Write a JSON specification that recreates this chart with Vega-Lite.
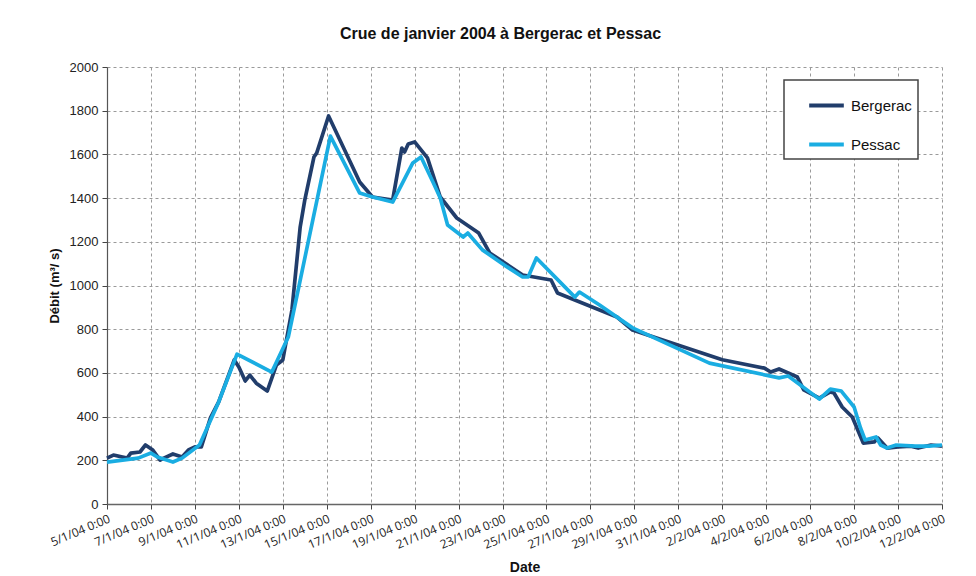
{
  "$schema": "https://vega.github.io/schema/vega-lite/v6.json",
  "width": 835,
  "height": 437,
  "autosize": "none",
  "padding": {"left": 107, "top": 67, "right": 34, "bottom": 72},
  "background": "white",
  "title": {
    "text": "Crue de janvier 2004 à Bergerac et Pessac",
    "font": "Liberation Sans",
    "fontSize": 16,
    "fontWeight": "bold",
    "color": "#111111",
    "anchor": "middle",
    "dx": -24,
    "offset": 19
  },
  "data": {
    "values": [
      {"date": "2004-01-05T00:00", "station": "Bergerac", "debit": 210},
      {"date": "2004-01-05T07:00", "station": "Bergerac", "debit": 224},
      {"date": "2004-01-05T22:00", "station": "Bergerac", "debit": 210},
      {"date": "2004-01-06T02:00", "station": "Bergerac", "debit": 233},
      {"date": "2004-01-06T12:00", "station": "Bergerac", "debit": 238},
      {"date": "2004-01-06T18:00", "station": "Bergerac", "debit": 270},
      {"date": "2004-01-07T02:00", "station": "Bergerac", "debit": 247},
      {"date": "2004-01-07T10:00", "station": "Bergerac", "debit": 201},
      {"date": "2004-01-07T14:00", "station": "Bergerac", "debit": 210},
      {"date": "2004-01-08T00:00", "station": "Bergerac", "debit": 229},
      {"date": "2004-01-08T10:00", "station": "Bergerac", "debit": 215},
      {"date": "2004-01-08T17:00", "station": "Bergerac", "debit": 247},
      {"date": "2004-01-09T00:00", "station": "Bergerac", "debit": 261},
      {"date": "2004-01-09T07:00", "station": "Bergerac", "debit": 261},
      {"date": "2004-01-09T17:00", "station": "Bergerac", "debit": 394},
      {"date": "2004-01-10T02:00", "station": "Bergerac", "debit": 467},
      {"date": "2004-01-10T19:00", "station": "Bergerac", "debit": 659},
      {"date": "2004-01-11T00:00", "station": "Bergerac", "debit": 627},
      {"date": "2004-01-11T07:00", "station": "Bergerac", "debit": 563},
      {"date": "2004-01-11T12:00", "station": "Bergerac", "debit": 590},
      {"date": "2004-01-11T19:00", "station": "Bergerac", "debit": 553},
      {"date": "2004-01-12T07:00", "station": "Bergerac", "debit": 517},
      {"date": "2004-01-12T17:00", "station": "Bergerac", "debit": 636},
      {"date": "2004-01-13T00:00", "station": "Bergerac", "debit": 659},
      {"date": "2004-01-13T10:00", "station": "Bergerac", "debit": 888},
      {"date": "2004-01-13T19:00", "station": "Bergerac", "debit": 1268},
      {"date": "2004-01-14T00:00", "station": "Bergerac", "debit": 1391},
      {"date": "2004-01-14T10:00", "station": "Bergerac", "debit": 1588},
      {"date": "2004-01-14T13:00", "station": "Bergerac", "debit": 1606},
      {"date": "2004-01-15T02:00", "station": "Bergerac", "debit": 1776},
      {"date": "2004-01-16T12:00", "station": "Bergerac", "debit": 1474},
      {"date": "2004-01-17T02:00", "station": "Bergerac", "debit": 1405},
      {"date": "2004-01-18T00:00", "station": "Bergerac", "debit": 1391},
      {"date": "2004-01-18T10:00", "station": "Bergerac", "debit": 1629},
      {"date": "2004-01-18T13:00", "station": "Bergerac", "debit": 1611},
      {"date": "2004-01-18T17:00", "station": "Bergerac", "debit": 1648},
      {"date": "2004-01-19T00:00", "station": "Bergerac", "debit": 1657},
      {"date": "2004-01-19T14:00", "station": "Bergerac", "debit": 1584},
      {"date": "2004-01-20T04:00", "station": "Bergerac", "debit": 1405},
      {"date": "2004-01-20T22:00", "station": "Bergerac", "debit": 1309},
      {"date": "2004-01-21T22:00", "station": "Bergerac", "debit": 1240},
      {"date": "2004-01-22T10:00", "station": "Bergerac", "debit": 1149},
      {"date": "2004-01-23T22:00", "station": "Bergerac", "debit": 1048},
      {"date": "2004-01-25T05:00", "station": "Bergerac", "debit": 1025},
      {"date": "2004-01-25T12:00", "station": "Bergerac", "debit": 966},
      {"date": "2004-01-28T05:00", "station": "Bergerac", "debit": 856},
      {"date": "2004-01-28T22:00", "station": "Bergerac", "debit": 796},
      {"date": "2004-02-02T00:00", "station": "Bergerac", "debit": 660},
      {"date": "2004-02-03T22:00", "station": "Bergerac", "debit": 622},
      {"date": "2004-02-04T05:00", "station": "Bergerac", "debit": 604},
      {"date": "2004-02-04T14:00", "station": "Bergerac", "debit": 618},
      {"date": "2004-02-05T10:00", "station": "Bergerac", "debit": 581},
      {"date": "2004-02-05T17:00", "station": "Bergerac", "debit": 522},
      {"date": "2004-02-06T10:00", "station": "Bergerac", "debit": 485},
      {"date": "2004-02-06T22:00", "station": "Bergerac", "debit": 513},
      {"date": "2004-02-07T02:00", "station": "Bergerac", "debit": 508},
      {"date": "2004-02-07T11:00", "station": "Bergerac", "debit": 444},
      {"date": "2004-02-07T22:00", "station": "Bergerac", "debit": 398},
      {"date": "2004-02-08T10:00", "station": "Bergerac", "debit": 279},
      {"date": "2004-02-08T22:00", "station": "Bergerac", "debit": 284},
      {"date": "2004-02-09T02:00", "station": "Bergerac", "debit": 302},
      {"date": "2004-02-09T12:00", "station": "Bergerac", "debit": 256},
      {"date": "2004-02-10T00:00", "station": "Bergerac", "debit": 261},
      {"date": "2004-02-10T14:00", "station": "Bergerac", "debit": 265},
      {"date": "2004-02-10T22:00", "station": "Bergerac", "debit": 256},
      {"date": "2004-02-11T12:00", "station": "Bergerac", "debit": 270},
      {"date": "2004-02-12T00:00", "station": "Bergerac", "debit": 265},
      {"date": "2004-01-05T00:00", "station": "Pessac", "debit": 192},
      {"date": "2004-01-06T10:00", "station": "Pessac", "debit": 210},
      {"date": "2004-01-07T00:00", "station": "Pessac", "debit": 233},
      {"date": "2004-01-07T07:00", "station": "Pessac", "debit": 215},
      {"date": "2004-01-08T00:00", "station": "Pessac", "debit": 192},
      {"date": "2004-01-08T10:00", "station": "Pessac", "debit": 210},
      {"date": "2004-01-09T05:00", "station": "Pessac", "debit": 270},
      {"date": "2004-01-10T02:00", "station": "Pessac", "debit": 467},
      {"date": "2004-01-10T22:00", "station": "Pessac", "debit": 686},
      {"date": "2004-01-12T12:00", "station": "Pessac", "debit": 604},
      {"date": "2004-01-13T06:00", "station": "Pessac", "debit": 764},
      {"date": "2004-01-15T04:00", "station": "Pessac", "debit": 1684},
      {"date": "2004-01-16T12:00", "station": "Pessac", "debit": 1423},
      {"date": "2004-01-17T02:00", "station": "Pessac", "debit": 1405},
      {"date": "2004-01-18T00:00", "station": "Pessac", "debit": 1382},
      {"date": "2004-01-18T22:00", "station": "Pessac", "debit": 1561},
      {"date": "2004-01-19T07:00", "station": "Pessac", "debit": 1588},
      {"date": "2004-01-19T20:00", "station": "Pessac", "debit": 1474},
      {"date": "2004-01-20T04:00", "station": "Pessac", "debit": 1400},
      {"date": "2004-01-20T12:00", "station": "Pessac", "debit": 1277},
      {"date": "2004-01-21T05:00", "station": "Pessac", "debit": 1222},
      {"date": "2004-01-21T10:00", "station": "Pessac", "debit": 1240},
      {"date": "2004-01-22T02:00", "station": "Pessac", "debit": 1163},
      {"date": "2004-01-23T05:00", "station": "Pessac", "debit": 1085},
      {"date": "2004-01-23T22:00", "station": "Pessac", "debit": 1039},
      {"date": "2004-01-24T04:00", "station": "Pessac", "debit": 1039},
      {"date": "2004-01-24T13:00", "station": "Pessac", "debit": 1126},
      {"date": "2004-01-26T07:00", "station": "Pessac", "debit": 947},
      {"date": "2004-01-26T12:00", "station": "Pessac", "debit": 970},
      {"date": "2004-01-27T10:00", "station": "Pessac", "debit": 911},
      {"date": "2004-01-28T22:00", "station": "Pessac", "debit": 806},
      {"date": "2004-02-01T10:00", "station": "Pessac", "debit": 645},
      {"date": "2004-02-04T14:00", "station": "Pessac", "debit": 577},
      {"date": "2004-02-05T00:00", "station": "Pessac", "debit": 586},
      {"date": "2004-02-06T10:00", "station": "Pessac", "debit": 480},
      {"date": "2004-02-06T22:00", "station": "Pessac", "debit": 526},
      {"date": "2004-02-07T10:00", "station": "Pessac", "debit": 517},
      {"date": "2004-02-08T00:00", "station": "Pessac", "debit": 444},
      {"date": "2004-02-08T07:00", "station": "Pessac", "debit": 348},
      {"date": "2004-02-08T12:00", "station": "Pessac", "debit": 293},
      {"date": "2004-02-09T00:00", "station": "Pessac", "debit": 307},
      {"date": "2004-02-09T05:00", "station": "Pessac", "debit": 270},
      {"date": "2004-02-09T12:00", "station": "Pessac", "debit": 256},
      {"date": "2004-02-09T22:00", "station": "Pessac", "debit": 270},
      {"date": "2004-02-10T19:00", "station": "Pessac", "debit": 265},
      {"date": "2004-02-11T10:00", "station": "Pessac", "debit": 265},
      {"date": "2004-02-12T00:00", "station": "Pessac", "debit": 270}
    ]
  },
  "mark": {"type": "line", "strokeWidth": 3.7, "strokeJoin": "round"},
  "encoding": {
    "x": {
      "field": "date",
      "type": "temporal",
      "scale": {
        "domain": [{"year": 2004, "month": 1, "date": 5}, {"year": 2004, "month": 2, "date": 12}],
        "nice": false
      },
      "axis": {
        "title": "Date",
        "values": [
          {"year": 2004, "month": 1, "date": 5}, {"year": 2004, "month": 1, "date": 7},
          {"year": 2004, "month": 1, "date": 9}, {"year": 2004, "month": 1, "date": 11},
          {"year": 2004, "month": 1, "date": 13}, {"year": 2004, "month": 1, "date": 15},
          {"year": 2004, "month": 1, "date": 17}, {"year": 2004, "month": 1, "date": 19},
          {"year": 2004, "month": 1, "date": 21}, {"year": 2004, "month": 1, "date": 23},
          {"year": 2004, "month": 1, "date": 25}, {"year": 2004, "month": 1, "date": 27},
          {"year": 2004, "month": 1, "date": 29}, {"year": 2004, "month": 1, "date": 31},
          {"year": 2004, "month": 2, "date": 2}, {"year": 2004, "month": 2, "date": 4},
          {"year": 2004, "month": 2, "date": 6}, {"year": 2004, "month": 2, "date": 8},
          {"year": 2004, "month": 2, "date": 10}, {"year": 2004, "month": 2, "date": 12}
        ],
        "format": "%-d/%-m/%y %-H:%M",
        "labelAngle": -23,
        "labelAlign": "right",
        "labelBaseline": "top",
        "labelFont": "Open Sans",
        "labelFontSize": 12,
        "labelColor": "#222222",
        "labelPadding": 4,
        "labelOverlap": false,
        "labelFlush": false,
        "titleFont": "Liberation Sans",
        "titleFontSize": 14,
        "titleFontWeight": "bold",
        "titleColor": "#111111",
        "titlePadding": 10,
        "domainColor": "#666666",
        "domainWidth": 1.5,
        "tickColor": "#444444",
        "tickSize": 5,
        "gridColor": "#9a9a9a",
        "gridDash": [3, 3],
        "gridWidth": 1
      }
    },
    "y": {
      "field": "debit",
      "type": "quantitative",
      "scale": {"domain": [0, 2000], "nice": false},
      "axis": {
        "title": "Débit (m³/ s)",
        "values": [0, 200, 400, 600, 800, 1000, 1200, 1400, 1600, 1800, 2000],
        "format": "d",
        "labelFont": "Liberation Sans",
        "labelFontSize": 13,
        "labelColor": "#222222",
        "labelPadding": 4,
        "titleFont": "Liberation Sans",
        "titleFontSize": 13,
        "titleFontWeight": "bold",
        "titleColor": "#111111",
        "titlePadding": 8,
        "domainColor": "#555555",
        "domainWidth": 1.2,
        "tickColor": "#444444",
        "tickSize": 5,
        "gridColor": "#9a9a9a",
        "gridDash": [3, 3],
        "gridWidth": 1
      }
    },
    "color": {
      "field": "station",
      "type": "nominal",
      "scale": {"domain": ["Bergerac", "Pessac"], "range": ["#213D6B", "#1AADE2"]},
      "legend": {
        "title": null,
        "orient": "none",
        "legendX": 677,
        "legendY": 13,
        "symbolType": "stroke",
        "symbolSize": 1200,
        "symbolStrokeWidth": 4,
        "symbolOffset": 17,
        "labelFont": "Liberation Sans",
        "labelFontSize": 15,
        "labelColor": "#111111",
        "labelOffset": 5,
        "labelExpr": "datum.label + '\u00a0\u00a0\u00a0'",
        "padding": 6,
        "rowPadding": 11,
        "strokeColor": "#444444",
        "fillColor": "white"
      }
    }
  },
  "config": {
    "view": {"stroke": null},
    "legend": {"strokeWidth": 1.5}
  }
}
